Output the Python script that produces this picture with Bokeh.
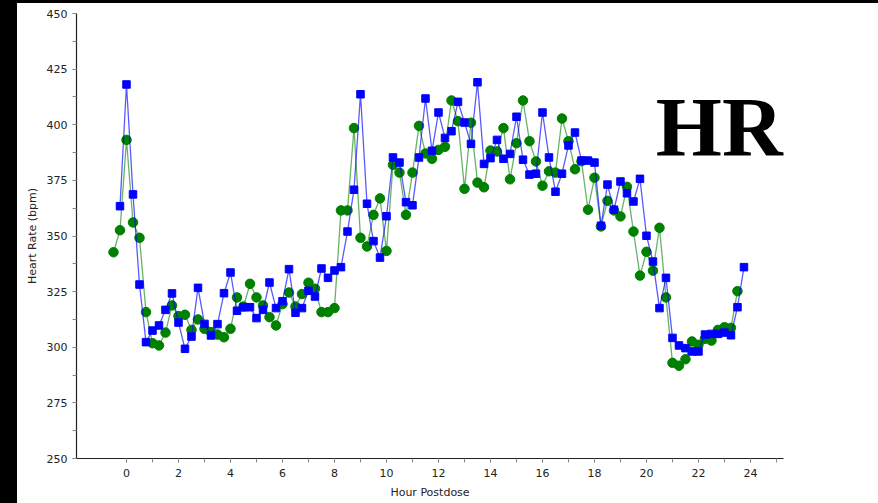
from bokeh.plotting import figure
from bokeh.layouts import column
from bokeh.models import Range1d, FixedTicker, Label
from bokeh.embed import file_html
from bokeh.resources import INLINE

# hours postdose (15-minute sampling)
hours = [-0.5, -0.25, 0.0, 0.25, 0.5, 0.75, 1.0, 1.25, 1.5, 1.75,
         2.0, 2.25, 2.5, 2.75, 3.0, 3.25, 3.5, 3.75, 4.0, 4.25,
         4.5, 4.75, 5.0, 5.25, 5.5, 5.75, 6.0, 6.25, 6.5, 6.75,
         7.0, 7.25, 7.5, 7.75, 8.0, 8.25, 8.5, 8.75, 9.0, 9.25,
         9.5, 9.75, 10.0, 10.25, 10.5, 10.75, 11.0, 11.25, 11.5, 11.75,
         12.0, 12.25, 12.5, 12.75, 13.0, 13.25, 13.5, 13.75, 14.0, 14.25,
         14.5, 14.75, 15.0, 15.25, 15.5, 15.75, 16.0, 16.25, 16.5, 16.75,
         17.0, 17.25, 17.5, 17.75, 18.0, 18.25, 18.5, 18.75, 19.0, 19.25,
         19.5, 19.75, 20.0, 20.25, 20.5, 20.75, 21.0, 21.25, 21.5, 21.75,
         22.0, 22.25, 22.5, 22.75, 23.0, 23.25, 23.5, 23.75]

# green series: hours[0] .. hours[-2]
green_hr = [342.7, 352.6, 393.2, 356.1, 349.2, 315.8, 301.8, 300.8, 306.6, 318.8,
            314.0, 314.6, 307.8, 312.5, 308.3, 306.8, 305.7, 304.5, 308.3, 322.4,
            318.3, 328.5, 322.4, 318.8, 313.5, 309.8, 319.4, 324.6, 318.3, 323.9,
            329.0, 326.3, 315.8, 315.8, 317.6, 361.5, 361.5, 398.5, 349.2, 345.3,
            359.5, 366.9, 343.3, 382.0, 378.5, 359.5, 378.5, 399.5, 387.1, 384.7,
            388.7, 390.1, 410.9, 401.6, 371.2, 400.9, 374.0, 371.9, 388.4, 388.0,
            398.5, 375.5, 391.7, 410.9, 392.6, 383.5, 372.6, 379.1, 378.5, 402.8,
            392.6, 380.0, 383.6, 361.8, 376.2, 354.3, 365.8, 361.5, 358.8, 372.1,
            352.0, 332.2, 342.9, 334.4, 353.7, 322.4, 293.0, 291.7, 294.6, 302.6,
            301.1, 303.8, 303.0, 307.8, 309.0, 308.7, 325.2]

# blue series: hours[1] .. hours[-1]
blue_hr = [363.4, 418.1, 368.7, 328.2, 302.3, 307.5, 309.8, 316.8, 324.2,
           311.1, 299.3, 304.8, 326.7, 310.5, 305.3, 310.4, 324.3, 333.6, 316.4,
           318.0, 318.0, 313.1, 316.8, 329.1, 317.6, 320.7, 335.1, 315.5, 317.6,
           325.4, 322.8, 335.4, 331.2, 334.5, 336.0, 352.0, 370.8, 413.7, 364.5,
           347.7, 340.3, 358.9, 385.3, 383.0, 365.2, 363.8, 385.3, 411.8, 388.3,
           405.5, 394.1, 397.1, 410.3, 401.0, 391.4, 419.1, 382.4, 385.0, 393.2,
           384.7, 386.9, 403.6, 384.3, 377.6, 378.0, 405.5, 385.3, 369.9, 378.0,
           390.7, 396.5, 383.9, 383.9, 383.0, 354.6, 373.1, 361.8, 374.5, 369.2,
           365.5, 375.7, 350.1, 338.5, 317.6, 331.2, 304.2, 300.8, 299.6, 298.1,
           298.1, 305.7, 306.0, 306.0, 306.6, 305.4, 318.0, 336.0]

green_hours = hours[:-1]
blue_hours = hours[1:]

x_major = [0, 2, 4, 6, 8, 10, 12, 14, 16, 18, 20, 22, 24]
x_minor = [0, 1, 2, 3, 4, 5, 6, 7, 8, 9, 10, 11, 12, 13, 14, 15, 16, 17, 18, 19,
           20, 21, 22, 23, 24, 25]
y_major = [250, 275, 300, 325, 350, 375, 400, 425, 450]
y_minor = [250, 262.5, 275, 287.5, 300, 312.5, 325, 337.5, 350, 362.5, 375,
           387.5, 400, 412.5, 425, 437.5, 450]

p = figure(width=861, height=500, output_backend="svg", toolbar_location=None,
           x_range=Range1d(-1.923, 25.27), y_range=Range1d(250, 450),
           min_border_left=59, min_border_right=95, min_border_top=10,
           min_border_bottom=45, margin=(3, 0, 0, 17),
           styles={"background-color": "#ffffff"})

p.background_fill_color = "white"
p.border_fill_color = "white"
p.outline_line_color = None
p.xgrid.grid_line_color = None
p.ygrid.grid_line_color = None

for ax in (p.xaxis[0], p.yaxis[0]):
    ax.axis_line_color = "#222222"
    ax.axis_line_width = 1.2
    ax.major_tick_line_color = "#888888"
    ax.minor_tick_line_color = "#888888"
    ax.major_tick_in = 0
    ax.major_tick_out = 4
    ax.minor_tick_in = 0
    ax.minor_tick_out = 4
    ax.major_label_text_font = "DejaVu Sans"
    ax.major_label_text_font_size = "11px"
    ax.major_label_text_color = "#222222"
    ax.axis_label_text_font = "DejaVu Sans"
    ax.axis_label_text_font_size = "11px"
    ax.axis_label_text_font_style = "normal"
    ax.axis_label_text_color = "#222222"

p.xaxis.ticker = FixedTicker(ticks=x_major, minor_ticks=x_minor)
p.yaxis.ticker = FixedTicker(ticks=y_major, minor_ticks=y_minor)
p.xaxis.axis_label = "Hour Postdose"
p.yaxis.axis_label = "Heart Rate (bpm)"
p.xaxis.major_label_standoff = 6
p.yaxis.major_label_standoff = 5
p.xaxis.axis_label_standoff = 6
p.yaxis.axis_label_standoff = 5

p.line(green_hours, green_hr, line_color="#008000", line_width=1.3, line_alpha=0.6)
p.scatter(green_hours, green_hr, marker="circle", size=9.5,
          fill_color="#008000", line_color="#008000")
p.line(blue_hours, blue_hr, line_color="#0000ff", line_width=1.3, line_alpha=0.65)
p.scatter(blue_hours, blue_hr, marker="square", size=7.5,
          fill_color="#0000ff", line_color="#0000ff")

p.add_layout(Label(x=20.36, y=398.8, text="HR", text_font="Liberation Serif",
                   text_font_style="bold", text_font_size="85px",
                   text_color="black", text_baseline="alphabetic",
                   text_align="left"))

page = column(p, styles={"background-color": "#000000"})

open("out.html", "w").write(file_html(page, INLINE))
